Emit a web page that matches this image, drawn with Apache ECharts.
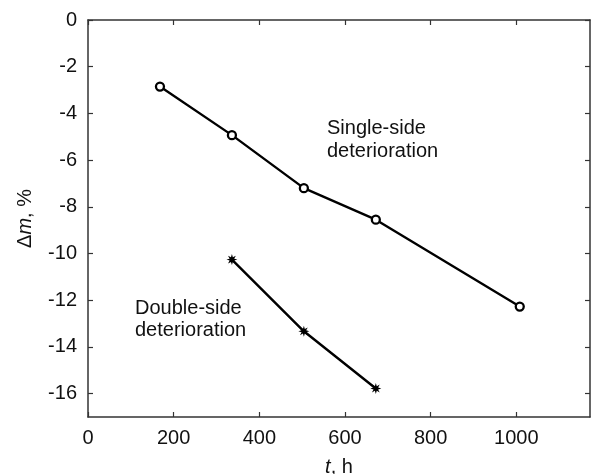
<!DOCTYPE html>
<html>
<head>
<meta charset="utf-8">
<script src="https://cdn.jsdelivr.net/npm/echarts@6/dist/echarts.min.js"></script>
<style>
  html, body { margin: 0; padding: 0; background: #fff; }
  #chart { width: 591px; height: 474px; }
</style>
</head>
<body>
<div id="chart"></div>
<script>
// Mass change over time for the two exposure conditions
const singleSideTime = [168, 336, 504, 672, 1008];
const singleSideMass = [-2.85, -4.93, -7.2, -8.55, -12.27];
const doubleSideTime = [336, 504, 672];
const doubleSideMass = [-10.26, -13.33, -15.78];

const xTicks = [0, 200, 400, 600, 800, 1000];
const yTicks = [0, -2, -4, -6, -8, -10, -12, -14, -16];

const FONT = '"Liberation Sans", Arial, sans-serif';
const FS = 20;
const INK = '#111';
const AXIS = '#333';

// eight-pointed asterisk symbol
function starPath() {
  const pts = [];
  for (let k = 0; k < 16; k++) {
    const r = k % 2 === 0 ? 10 : 4.5;
    const a = Math.PI / 8 * k - Math.PI / 2;
    pts.push((10 + r * Math.cos(a)).toFixed(2) + ' ' + (10 + r * Math.sin(a)).toFixed(2));
  }
  return 'path://M' + pts.join(' L') + ' Z';
}

function pairs(xs, ys) { return xs.map((x, i) => [x, ys[i]]); }

const chart = echarts.init(document.getElementById('chart'), null, { renderer: 'canvas' });

const axisLine = { show: true, onZero: false, lineStyle: { color: AXIS, width: 1.5 } };
const tickStyle = { inside: true, length: 5, lineStyle: { color: AXIS, width: 1.2 } };
const plain = v => String(v);

chart.setOption({
  animation: false,
  backgroundColor: '#fff',
  grid: { left: 88, right: 1, top: 20, bottom: 57, containLabel: false, outerBoundsMode: 'none' },
  xAxis: [
    {
      type: 'value', min: 0, max: 1172, position: 'bottom',
      axisLine: axisLine,
      axisTick: Object.assign({ customValues: xTicks }, tickStyle),
      axisLabel: { customValues: xTicks, formatter: plain, fontSize: FS, color: INK, fontFamily: FONT, margin: 11 },
      splitLine: { show: false },
      name: '{i|t}{n|, h}', nameLocation: 'middle', nameGap: 40,
      nameTextStyle: {
        rich: {
          i: { fontSize: FS, fontStyle: 'italic', fontFamily: FONT, color: INK },
          n: { fontSize: FS, fontFamily: FONT, color: INK }
        }
      }
    },
    {
      type: 'value', min: 0, max: 1172, position: 'top',
      axisLine: axisLine,
      axisTick: Object.assign({ customValues: xTicks }, tickStyle),
      axisLabel: { show: false },
      splitLine: { show: false }
    }
  ],
  yAxis: [
    {
      type: 'value', min: -17, max: 0, position: 'left',
      axisLine: axisLine,
      axisTick: Object.assign({ customValues: yTicks }, tickStyle),
      axisLabel: { customValues: yTicks, formatter: plain, fontSize: FS, color: INK, fontFamily: FONT, margin: 11 },
      splitLine: { show: false },
      name: '{n|Δ}{i|m}{n|, %}', nameLocation: 'middle', nameRotate: 90, nameGap: 53,
      nameTextStyle: {
        rich: {
          i: { fontSize: FS, fontStyle: 'italic', fontFamily: FONT, color: INK },
          n: { fontSize: FS, fontFamily: FONT, color: INK }
        }
      }
    },
    {
      type: 'value', min: -17, max: 0, position: 'right',
      axisLine: axisLine,
      axisTick: Object.assign({ customValues: yTicks }, tickStyle),
      axisLabel: { show: false },
      splitLine: { show: false }
    }
  ],
  series: [
    {
      name: 'Single-side deterioration',
      type: 'line',
      data: pairs(singleSideTime, singleSideMass),
      symbol: 'circle', symbolSize: 8,
      itemStyle: { color: '#fff', borderColor: '#000', borderWidth: 2.3 },
      lineStyle: { color: '#000', width: 2.4 },
      z: 3
    },
    {
      name: 'Double-side deterioration',
      type: 'line',
      data: pairs(doubleSideTime, doubleSideMass),
      symbol: starPath(), symbolSize: 11,
      itemStyle: { color: '#000' },
      lineStyle: { color: '#000', width: 2.4 },
      z: 3
    }
  ],
  graphic: [
    {
      type: 'text', left: 327, top: 117,
      style: { text: 'Single-side\ndeterioration', font: FS + 'px ' + FONT, fill: INK, lineHeight: 23 }
    },
    {
      type: 'text', left: 135, top: 297,
      style: { text: 'Double-side\ndeterioration', font: FS + 'px ' + FONT, fill: INK, lineHeight: 22 }
    }
  ]
});
</script>
</body>
</html>
